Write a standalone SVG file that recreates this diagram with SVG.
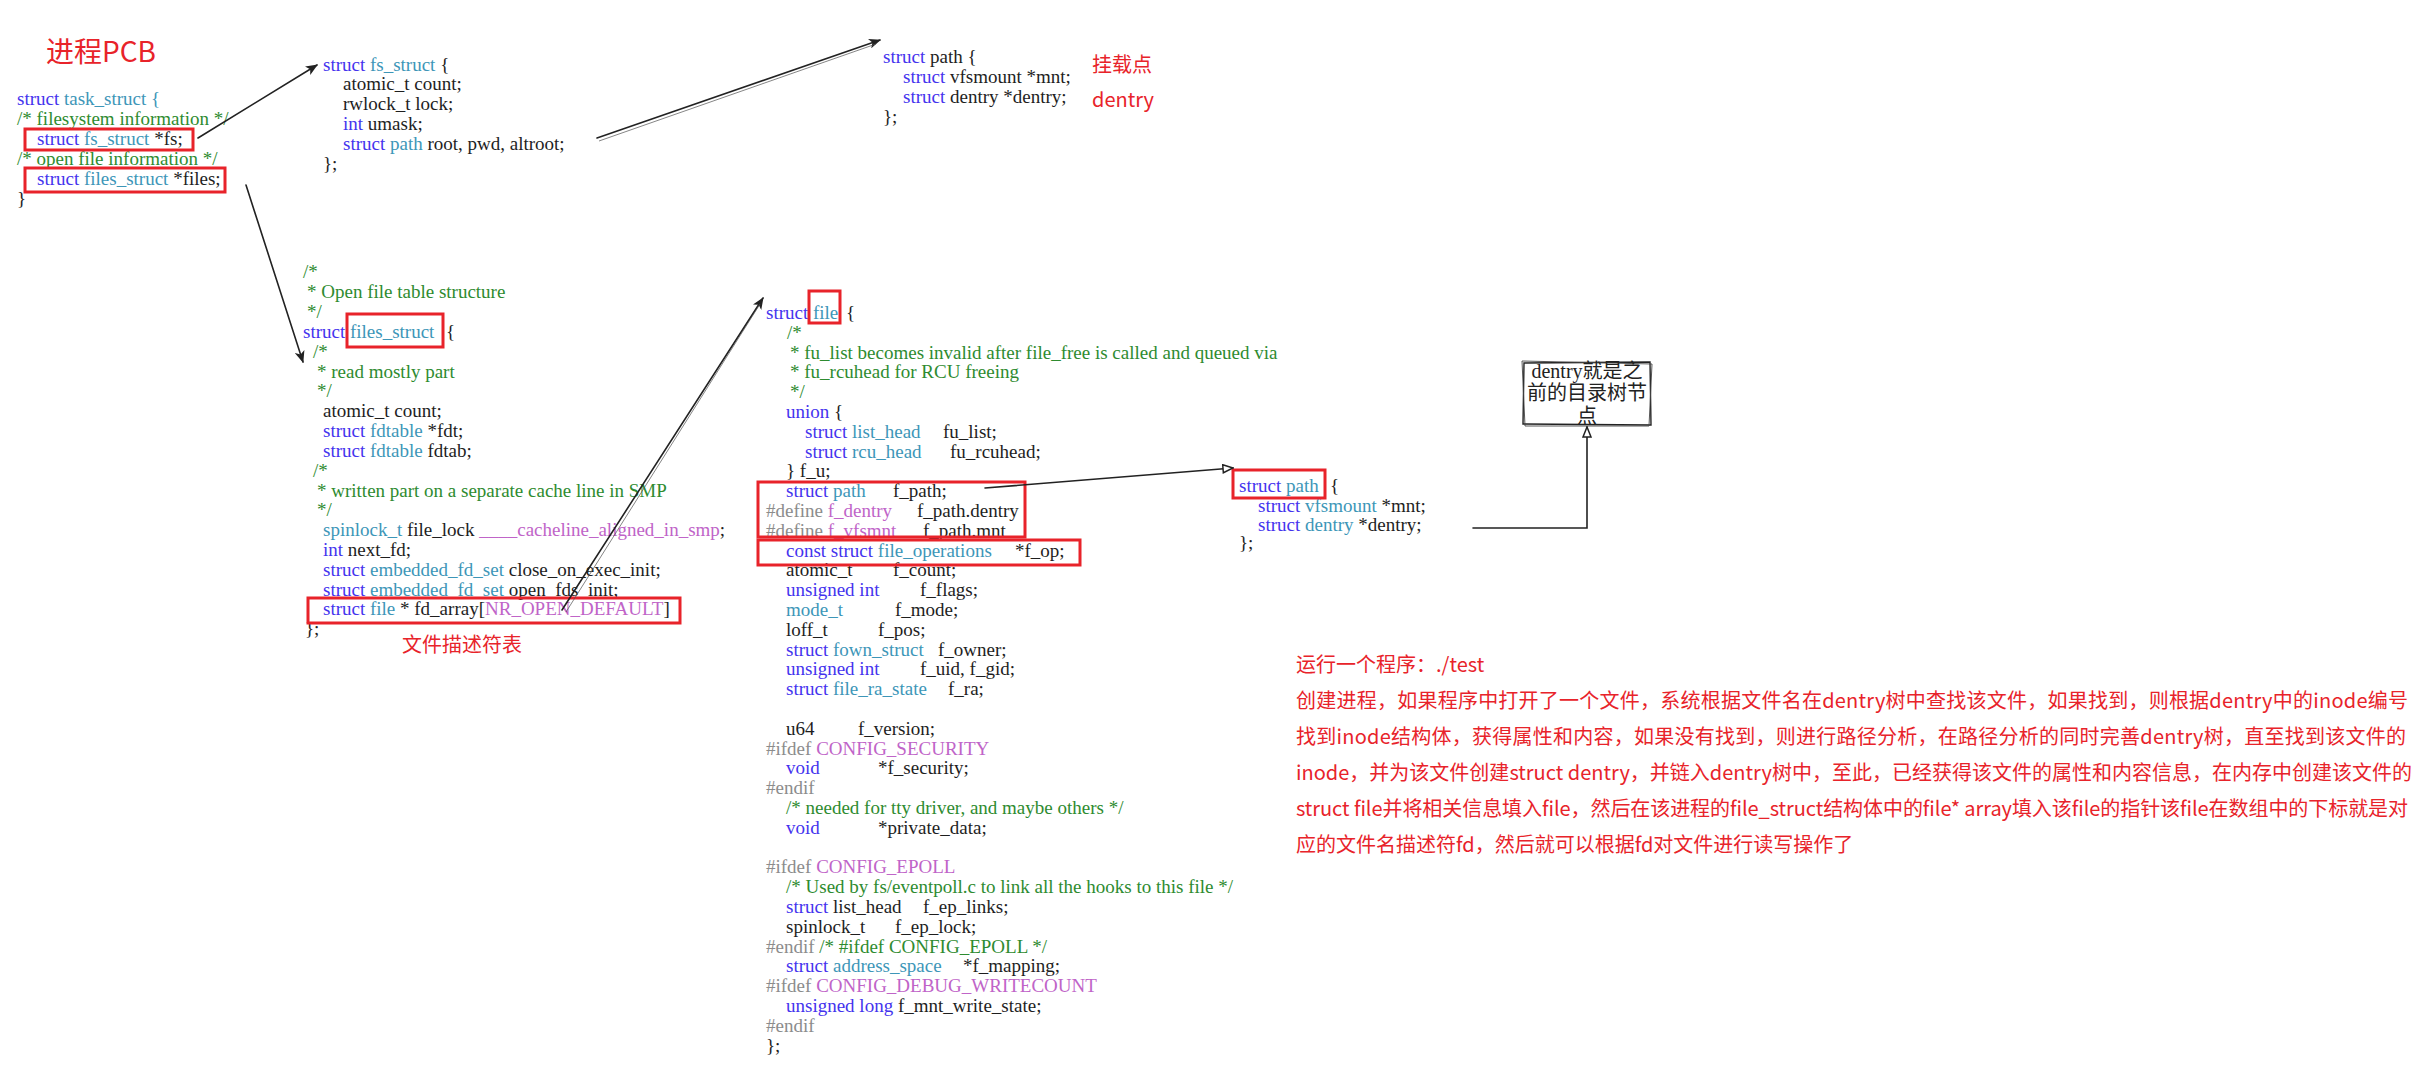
<svg xmlns="http://www.w3.org/2000/svg" width="2436" height="1074" viewBox="0 0 2436 1074">
<defs>
<style>
.code{font-family:"Liberation Serif","Times New Roman",serif;font-size:19px;fill:#1e1e1e}
.k{fill:#4433ee}
.t{fill:#3d96b8}
.c{fill:#2e8b30}
.p{fill:#8c8c8c}
.m{fill:#c064c8}
.red{font-family:"Noto Sans CJK SC","Microsoft YaHei",sans-serif;fill:#e8232a}
.box{fill:none;stroke:#e8232a;stroke-width:3}
.conn{fill:none;stroke:#222;stroke-width:1.6;stroke-linecap:round}
.ghost{fill:none;stroke:#555;stroke-width:0.9;opacity:0.8}
.note{font-family:"Liberation Serif","Noto Sans CJK SC",serif;font-size:20px;fill:#222;text-anchor:middle}
</style>
<marker id="ah" viewBox="0 0 12 10" refX="11" refY="5" markerWidth="12" markerHeight="10" orient="auto" markerUnits="userSpaceOnUse">
<path d="M0,0 L12,5 L0,10 L3,5 Z" fill="#222"/>
</marker>
<marker id="ao" viewBox="0 0 12 10" refX="11" refY="5" markerWidth="12" markerHeight="10" orient="auto" markerUnits="userSpaceOnUse">
<path d="M1,1 L11,5 L1,9 Z" fill="#fff" stroke="#222" stroke-width="1.5"/>
</marker>
</defs>
<rect width="2436" height="1074" fill="#fff"/>

<g id="title">
<text class="red" x="46" y="62" font-size="28">进程PCB</text>
</g>

<g id="node-task-struct" class="code">
<text x="17" y="105"><tspan class="k">struct</tspan> <tspan class="t">task_struct</tspan> <tspan class="t">{</tspan></text>
<text x="17" y="125" class="c">/* filesystem information */</text>
<text x="37" y="145"><tspan class="k">struct</tspan> <tspan class="t">fs_struct</tspan> *fs;</text>
<text x="17" y="165" class="c">/* open file information */</text>
<text x="37" y="185"><tspan class="k">struct</tspan> <tspan class="t">files_struct</tspan> *files;</text>
<text x="17" y="205">}</text>
<rect class="box" x="25" y="129" width="168" height="21"/>
<rect class="box" x="25" y="168" width="200" height="24"/>
</g>

<g id="node-fs-struct" class="code">
<text x="323" y="71"><tspan class="k">struct</tspan> <tspan class="t">fs_struct</tspan> {</text>
<text x="343" y="90">atomic_t count;</text>
<text x="343" y="110">rwlock_t lock;</text>
<text x="343" y="130"><tspan class="k">int</tspan> umask;</text>
<text x="343" y="150"><tspan class="k">struct</tspan> <tspan class="t">path</tspan> root, pwd, altroot;</text>
<text x="323" y="170">};</text>
</g>

<g id="node-path-top" class="code">
<text x="883" y="63"><tspan class="k">struct</tspan> path {</text>
<text x="903" y="83"><tspan class="k">struct</tspan> vfsmount *mnt;</text>
<text x="903" y="103"><tspan class="k">struct</tspan> dentry *dentry;</text>
<text x="883" y="123">};</text>
<text class="red" x="1092" y="72" font-size="20">挂载点</text>
<text class="red" x="1092" y="107" font-size="20">dentry</text>
</g>

<g id="node-files-struct" class="code">
<text x="303" y="278" class="c">/*</text>
<text x="307" y="298" class="c">* Open file table structure</text>
<text x="307" y="318" class="c">*/</text>
<text x="303" y="338"><tspan class="k">struct</tspan> <tspan class="t">files_struct</tspan><tspan x="446">{</tspan></text>
<text x="313" y="358" class="c">/*</text>
<text x="317" y="378" class="c">* read mostly part</text>
<text x="317" y="397" class="c">*/</text>
<text x="323" y="417">atomic_t count;</text>
<text x="323" y="437"><tspan class="k">struct</tspan> <tspan class="t">fdtable</tspan> *fdt;</text>
<text x="323" y="457"><tspan class="k">struct</tspan> <tspan class="t">fdtable</tspan> fdtab;</text>
<text x="313" y="477" class="c">/*</text>
<text x="317" y="497" class="c">* written part on a separate cache line in SMP</text>
<text x="317" y="516" class="c">*/</text>
<text x="323" y="536"><tspan class="t">spinlock_t</tspan> file_lock <tspan class="m">____cacheline_aligned_in_smp</tspan>;</text>
<text x="323" y="556"><tspan class="k">int</tspan> next_fd;</text>
<text x="323" y="576"><tspan class="k">struct</tspan> <tspan class="t">embedded_fd_set</tspan> close_on_exec_init;</text>
<text x="323" y="596"><tspan class="k">struct</tspan> <tspan class="t">embedded_fd_set</tspan> open_fds_init;</text>
<text x="323" y="615"><tspan class="k">struct</tspan> <tspan class="t">file</tspan> * fd_array[<tspan class="m">NR_OPEN_DEFAULT</tspan>]</text>
<text x="305" y="635">};</text>
<rect class="box" x="347" y="314" width="96" height="33"/>
<rect class="box" x="308" y="598" width="372" height="25"/>
<text class="red" x="402" y="652" font-size="20">文件描述符表</text>
</g>

<g id="node-file" class="code">
<text x="766" y="319"><tspan class="k">struct</tspan> <tspan class="t">file</tspan><tspan x="846">{</tspan></text>
<text x="787" y="339" class="c">/*</text>
<text x="790" y="359" class="c">* fu_list becomes invalid after file_free is called and queued via</text>
<text x="790" y="378" class="c">* fu_rcuhead for RCU freeing</text>
<text x="790" y="398" class="c">*/</text>
<text x="786" y="418"><tspan class="k">union</tspan> {</text>
<text x="805" y="438"><tspan class="k">struct</tspan> <tspan class="t">list_head</tspan><tspan x="943">fu_list;</tspan></text>
<text x="805" y="458"><tspan class="k">struct</tspan> <tspan class="t">rcu_head</tspan><tspan x="950">fu_rcuhead;</tspan></text>
<text x="786" y="477">} f_u;</text>
<text x="786" y="497"><tspan class="k">struct</tspan> <tspan class="t">path</tspan><tspan x="893">f_path;</tspan></text>
<text x="766" y="517"><tspan class="p">#define</tspan> <tspan class="m">f_dentry</tspan><tspan x="917">f_path.dentry</tspan></text>
<text x="766" y="537"><tspan class="p">#define</tspan> <tspan class="m">f_vfsmnt</tspan><tspan x="923">f_path.mnt</tspan></text>
<text x="786" y="557"><tspan class="k">const struct</tspan> <tspan class="t">file_operations</tspan><tspan x="1015">*f_op;</tspan></text>
<text x="786" y="576">atomic_t<tspan x="893">f_count;</tspan></text>
<text x="786" y="596"><tspan class="k">unsigned int</tspan><tspan x="920">f_flags;</tspan></text>
<text x="786" y="616"><tspan class="t">mode_t</tspan><tspan x="895">f_mode;</tspan></text>
<text x="786" y="636">loff_t<tspan x="878">f_pos;</tspan></text>
<text x="786" y="656"><tspan class="k">struct</tspan> <tspan class="t">fown_struct</tspan><tspan x="938">f_owner;</tspan></text>
<text x="786" y="675"><tspan class="k">unsigned int</tspan><tspan x="920">f_uid, f_gid;</tspan></text>
<text x="786" y="695"><tspan class="k">struct</tspan> <tspan class="t">file_ra_state</tspan><tspan x="948">f_ra;</tspan></text>
<text x="786" y="735">u64<tspan x="858">f_version;</tspan></text>
<text x="766" y="755"><tspan class="p">#ifdef</tspan> <tspan class="m">CONFIG_SECURITY</tspan></text>
<text x="786" y="774"><tspan class="k">void</tspan><tspan x="878">*f_security;</tspan></text>
<text x="766" y="794" class="p">#endif</text>
<text x="786" y="814" class="c">/* needed for tty driver, and maybe others */</text>
<text x="786" y="834"><tspan class="k">void</tspan><tspan x="878">*private_data;</tspan></text>
<text x="766" y="873"><tspan class="p">#ifdef</tspan> <tspan class="m">CONFIG_EPOLL</tspan></text>
<text x="786" y="893" class="c">/* Used by fs/eventpoll.c to link all the hooks to this file */</text>
<text x="786" y="913"><tspan class="k">struct</tspan> list_head<tspan x="923">f_ep_links;</tspan></text>
<text x="786" y="933">spinlock_t<tspan x="895">f_ep_lock;</tspan></text>
<text x="766" y="953"><tspan class="p">#endif</tspan> <tspan class="c">/* #ifdef CONFIG_EPOLL */</tspan></text>
<text x="786" y="972"><tspan class="k">struct</tspan> <tspan class="t">address_space</tspan><tspan x="963">*f_mapping;</tspan></text>
<text x="766" y="992"><tspan class="p">#ifdef</tspan> <tspan class="m">CONFIG_DEBUG_WRITECOUNT</tspan></text>
<text x="786" y="1012"><tspan class="k">unsigned long</tspan> f_mnt_write_state;</text>
<text x="766" y="1032" class="p">#endif</text>
<text x="766" y="1052">};</text>
<rect class="box" x="809" y="291" width="31" height="32"/>
<rect class="box" x="758" y="482" width="267" height="55"/>
<rect class="box" x="758" y="540" width="322" height="25"/>
</g>

<g id="node-path-right" class="code">
<text x="1239" y="492"><tspan class="k">struct</tspan> <tspan class="t">path</tspan><tspan x="1330">{</tspan></text>
<text x="1258" y="512"><tspan class="k">struct</tspan> <tspan class="t">vfsmount</tspan> *mnt;</text>
<text x="1258" y="531"><tspan class="k">struct</tspan> <tspan class="t">dentry</tspan> *dentry;</text>
<text x="1239" y="549">};</text>
<rect class="box" x="1233" y="470" width="92" height="28"/>
</g>

<g id="node-dentry-note">
<path d="M1524,363 L1650,362 L1651,425 L1523,424 Z" fill="none" stroke="#222" stroke-width="1.4"/>
<path d="M1522,361 L1652,364 L1649,426 L1525,426 Z" fill="none" stroke="#444" stroke-width="0.9"/>
<text class="note" x="1587" y="378">dentry就是之</text>
<text class="note" x="1587" y="400">前的目录树节</text>
<text class="note" x="1587" y="423">点</text>
</g>

<g id="note-text" class="red" font-size="20">
<text x="1296" y="672">运行一个程序：./test</text>
<text x="1296" y="708" textLength="1112" lengthAdjust="spacing">创建进程，如果程序中打开了一个文件，系统根据文件名在dentry树中查找该文件，如果找到，则根据dentry中的inode编号</text>
<text x="1296" y="744" textLength="1110" lengthAdjust="spacing">找到inode结构体，获得属性和内容，如果没有找到，则进行路径分析，在路径分析的同时完善dentry树，直至找到该文件的</text>
<text x="1296" y="780" textLength="1116" lengthAdjust="spacing">inode，并为该文件创建struct dentry，并链入dentry树中，至此，已经获得该文件的属性和内容信息，在内存中创建该文件的</text>
<text x="1296" y="816" textLength="1112" lengthAdjust="spacing">struct file并将相关信息填入file，然后在该进程的file_struct结构体中的file* array填入该file的指针该file在数组中的下标就是对</text>
<text x="1296" y="852">应的文件名描述符fd，然后就可以根据fd对文件进行读写操作了</text>
</g>

<g id="connectors">
<path class="conn" d="M198,138 L317,65" marker-end="url(#ah)"/>
<path class="conn" d="M597,138 L880,40" marker-end="url(#ah)"/>
<path class="ghost" d="M599,141 L876,44"/>
<path class="conn" d="M246,185 L303,362" marker-end="url(#ah)"/>
<path class="conn" d="M562,610 L763,298" marker-end="url(#ah)"/>
<path class="ghost" d="M566,612 L760,304"/>
<path class="conn" d="M985,488 L1233,468" marker-end="url(#ao)"/>
<path class="conn" d="M1473,528 L1587,528 L1587,427" marker-end="url(#ao)"/>
</g>
</svg>
